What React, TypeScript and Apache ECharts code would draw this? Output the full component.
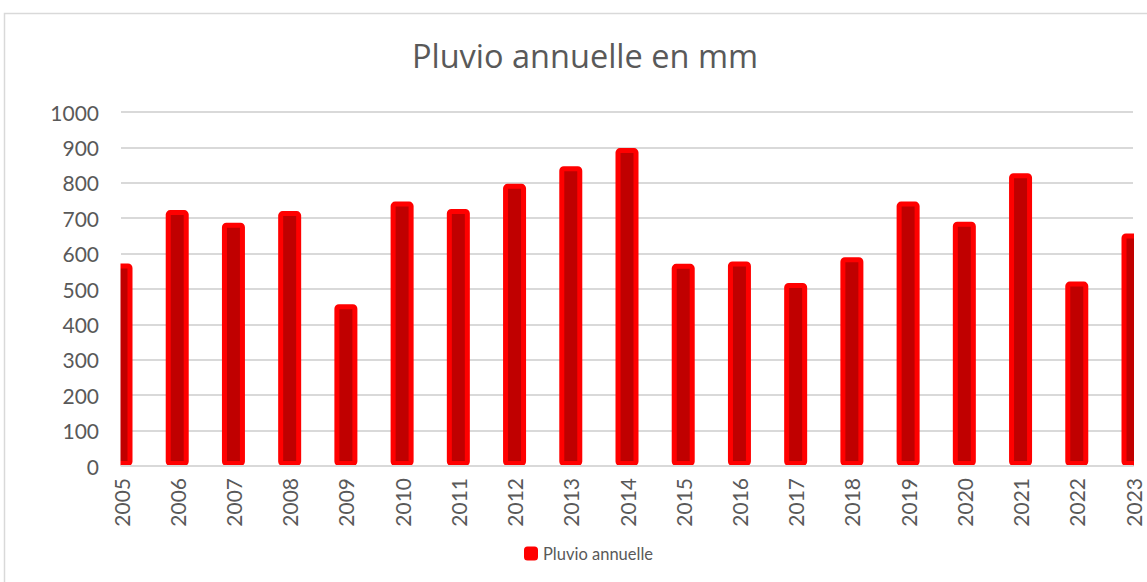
import React, { useEffect, useRef } from "react";
import * as echarts from "echarts";

const years = ["2005","2006","2007","2008","2009","2010","2011","2012","2013","2014","2015","2016","2017","2018","2019","2020","2021","2022","2023"];
const pluvio = [572, 723, 687, 720, 457, 747, 726, 797, 847, 898, 571, 578, 517, 590, 747, 690, 827, 521, 657];
const yTicks = { min: 0, max: 1000, interval: 100 };
const titleText = "Pluvio annuelle en mm";
const seriesName = "Pluvio annuelle";

export default function App() {
  const ref = useRef<HTMLDivElement>(null);
  useEffect(() => {
    document.body.style.margin = "0";
    const chart = echarts.init(ref.current!, null, { renderer: "svg" });
    const font = "Lato, 'Open Sans', sans-serif";
    const gridLeft = 121;
    const gridRight = 14;
    const gridTop = 112;
    const gridBottom = 116;
    const plotBottom = 582 - gridBottom;
    chart.setOption({
      animation: false,
      backgroundColor: "#ffffff",
      title: {
        text: titleText,
        left: 580,
        textAlign: "center",
        top: 34,
        textStyle: { fontFamily: "'Open Sans', sans-serif", fontSize: 32.5, fontWeight: 400, color: "#595959" },
      },
      graphic: [
        {
          type: "rect",
          z: 100,
          shape: { x: gridLeft - 15, y: gridTop - 10, width: 14.5, height: plotBottom - gridTop + 16 },
          style: { fill: "#ffffff" },
          silent: true,
        },
        {
          type: "rect",
          z: 100,
          shape: { x: 1147 - gridRight + 1, y: gridTop - 10, width: 30, height: plotBottom - gridTop + 16 },
          style: { fill: "#ffffff" },
          silent: true,
        },
        {
          type: "rect",
          z: 101,
          shape: { x: 4.5, y: 13.5, width: 1200, height: 600 },
          style: { fill: "none", stroke: "#d9d9d9", lineWidth: 1.5 },
          silent: true,
        },
      ],
      legend: {
        data: [seriesName],
        left: 519,
        top: 540,
        textStyle: { fontFamily: font, fontSize: 16.5, color: "#595959" },
        itemWidth: 14,
        itemHeight: 14,
        itemGap: 4,
        icon: "roundRect",
        itemStyle: { borderWidth: 0, color: "#ff0000" },
      },
      grid: { left: gridLeft, right: gridRight, top: gridTop, bottom: gridBottom, containLabel: false },
      xAxis: {
        type: "category",
        data: years,
        boundaryGap: false,
        z: 50,
        axisLine: { lineStyle: { color: "#d9d9d9", width: 2 } },
        axisTick: { show: false },
        axisLabel: { rotate: 90, margin: 12, fontFamily: font, fontSize: 21, color: "#595959" },
      },
      yAxis: {
        type: "value",
        min: yTicks.min,
        max: yTicks.max,
        interval: yTicks.interval,
        axisLine: { show: false },
        axisTick: { show: false },
        splitLine: { lineStyle: { color: "#d9d9d9", width: 2 } },
        axisLabel: { margin: 22, fontFamily: font, fontSize: 21, color: "#595959", formatter: (v: number) => String(v) },
      },
      series: [
        {
          name: seriesName,
          type: "bar",
          data: pluvio,
          barWidth: 23,
          clip: true,
          itemStyle: { color: "#c00000", borderColor: "#ff0000", borderWidth: 5, borderRadius: 2 },
        },
      ],
    });
    return () => chart.dispose();
  }, []);
  return <div ref={ref} style={{ position: "absolute", left: 0, top: 0, width: 1147, height: 582 }} />;
}
